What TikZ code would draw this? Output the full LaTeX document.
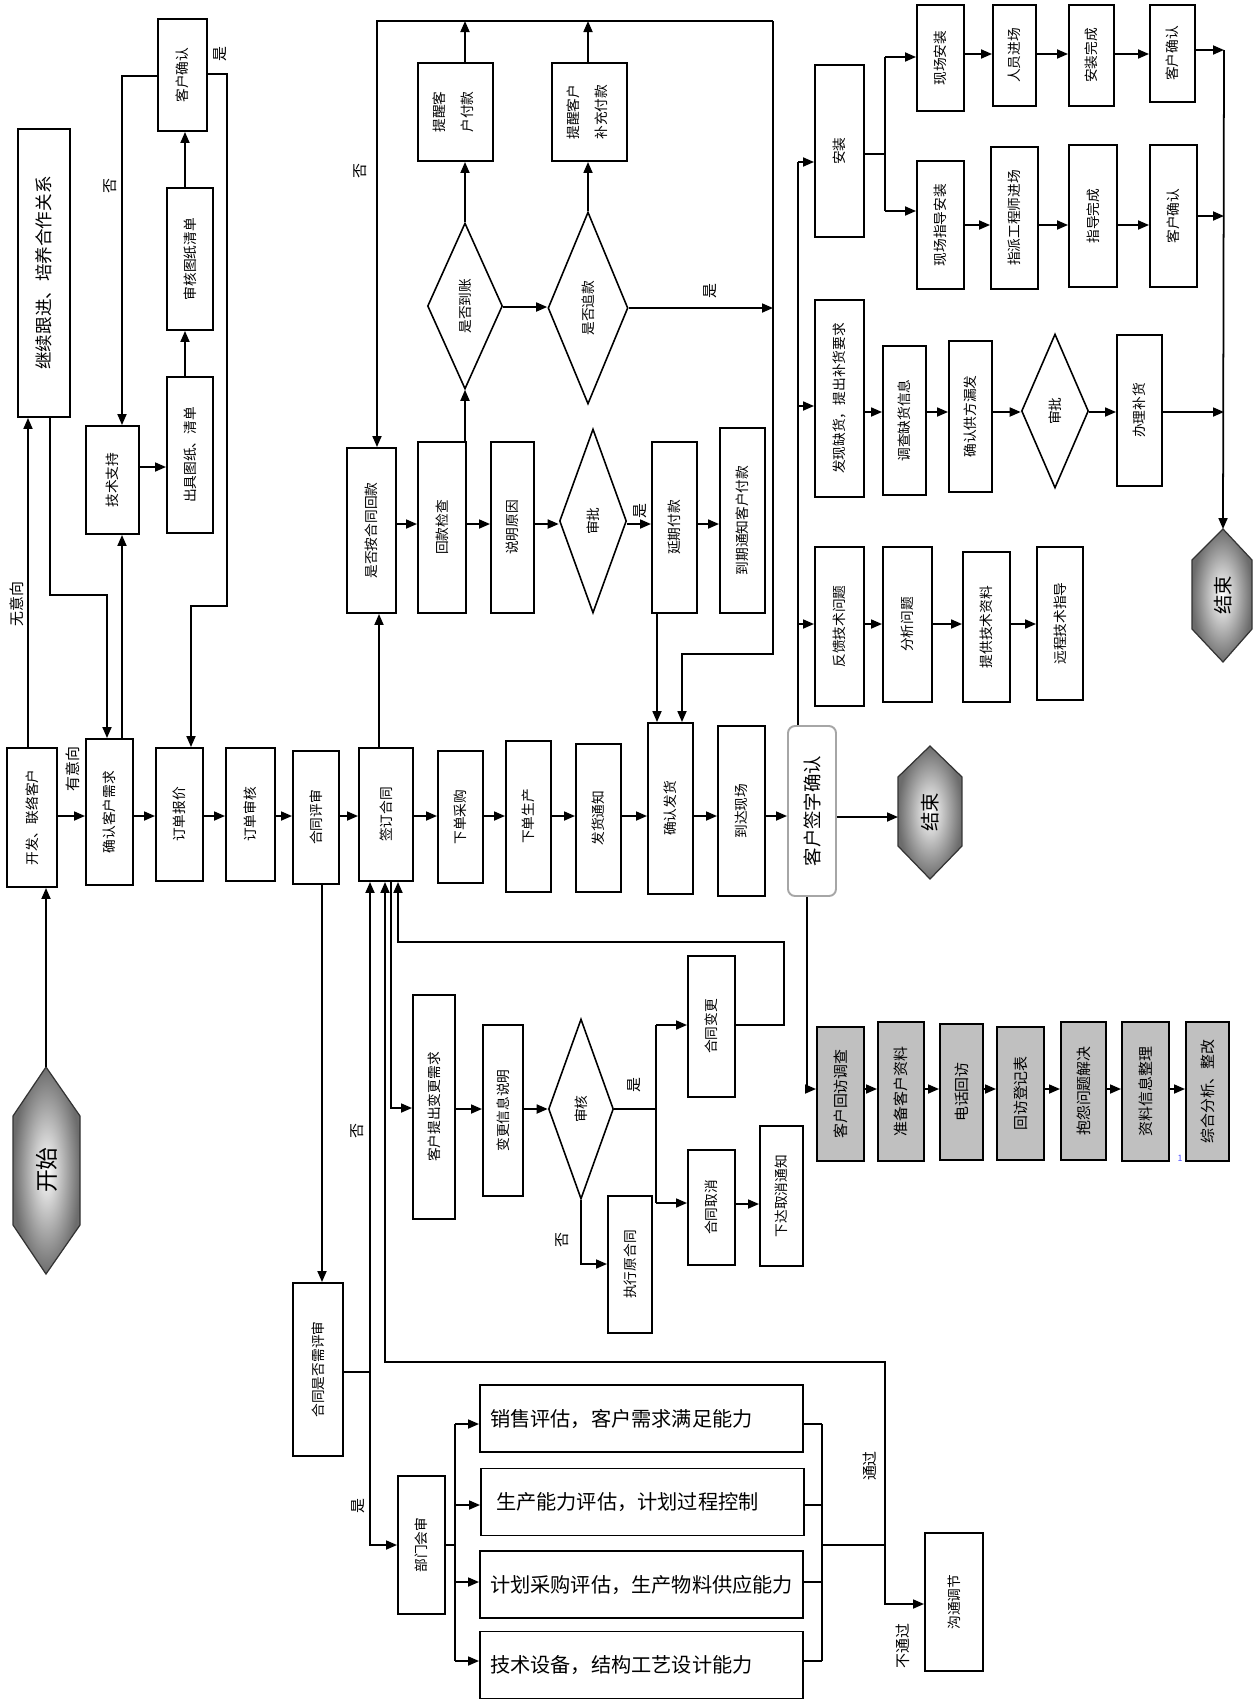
\documentclass[tikz,border=0pt]{standalone}
\usepackage{fontspec}
\setmainfont{Noto Sans CJK SC}
\usepackage{graphicx}
\usetikzlibrary{shapes.geometric,arrows.meta}
\definecolor{visitgray}{HTML}{C0C0C0}
\newcommand{\rottext}[1]{\rotatebox{90}{#1}}
% box from corner (x1,y1) to (x2,y2), text read upwards
\newcommand{\stage}[7][]{%
  \node[box,#1,minimum width={(#5-#3)*0.02cm},minimum height={(#6-#4)*0.02cm}]
    (#2) at ({(#3+#5)/2},{(#4+#6)/2}) {\rottext{#7}};}

\begin{document}
\begin{tikzpicture}[x=0.02cm,y=-0.02cm,
    box/.style={draw,line width=1.1pt,inner sep=0pt,font=\fontsize{7.8}{9.5}\selectfont},
    dia/.style={draw,diamond,line width=0.9pt,inner sep=0pt,font=\fontsize{7.8}{9.5}\selectfont},
    evalbox/.style={box,font=\fontsize{11.5}{13}\selectfont,minimum width=323*0.02cm,
        minimum height=67*0.02cm,text width=313*0.02cm,inner xsep=5*0.02cm,align=left},
    lbl/.style={inner sep=0pt,font=\fontsize{8.5}{10}\selectfont},
    link/.style={line width=1pt},
    arr/.style={link,-{Triangle[length=2.2mm,width=1.8mm]}},
    term/.style={inner color=white,outer color=gray!85!black,draw=gray!40!black,line width=0.7pt}]
    \useasboundingbox (0,0) rectangle (1254,1701);

    % terminals
    \shadedraw[term] (46,1067) -- (80,1116) -- (80,1225) -- (46,1274) -- (13,1225) -- (13,1116) -- cycle;
    \node[font=\fontsize{13}{15}\selectfont] (start) at (47,1170) {\rottext{开始}};
    \coordinate (start-top) at (46,1067);
    \shadedraw[term] (930,746) -- (962,777) -- (962,846) -- (930,879) -- (898,846) -- (898,777) -- cycle;
    \node[font=\fontsize{11}{13}\selectfont] (endM) at (930,812) {\rottext{结束}};
    \coordinate (endM-w) at (898,817);
    \shadedraw[term] (1223,529) -- (1252,560) -- (1252,629) -- (1223,662) -- (1192,629) -- (1192,560) -- cycle;
    \node[font=\fontsize{11}{13}\selectfont] (endR) at (1223,595) {\rottext{结束}};
    \coordinate (endR-n) at (1223,529);

    % customer development
    \stage{dev}{7}{748}{57}{887}{开发、联络客户}
    \stage[font=\fontsize{10}{12}\selectfont]{follow}{18}{129}{70}{417}{继续跟进、培养合作关系}
    \stage{need}{86}{739}{133}{885}{确认客户需求}
    \stage{tech}{86}{426}{139}{534}{技术支持}
    \stage{chart}{167}{377}{213}{533}{出具图纸、清单}
    \stage{review}{167}{188}{213}{330}{审核图纸清单}
    \stage{cconf}{158}{19}{207}{131}{客户确认}
    \stage{quote}{156}{748}{203}{881}{订单报价}
    \stage{audit}{226}{748}{275}{881}{订单审核}
    \stage{ceval}{293}{751}{339}{884}{合同评审}
    \stage{sign}{359}{748}{413}{881}{签订合同}

    % payment check
    \stage{payc}{347}{448}{396}{613}{是否按合同回款}
    \stage{check}{418}{442}{466}{613}{回款检查}
    \stage{reason}{491}{442}{534}{613}{说明原因}
    \node[dia,minimum width=67*0.02cm,minimum height=184*0.02cm] (approve) at (593,521) {\rottext{审批}};
    \stage{delay}{652}{442}{697}{613}{延期付款}
    \stage{notify}{720}{428}{765}{613}{到期通知客户付款}
    \node[dia,minimum width=75*0.02cm,minimum height=166*0.02cm] (daz) at (465,306) {\rottext{是否到账}};
    \node[dia,minimum width=80*0.02cm,minimum height=192*0.02cm] (zk) at (588,308) {\rottext{是否追款}};
    \stage{remind1}{418}{63}{493}{161}{\begin{tabular}{@{}c@{}}提醒客\\[6.5pt]户付款\end{tabular}}
    \stage{remind2}{552}{63}{627}{161}{\begin{tabular}{@{}c@{}}提醒客户\\[6.5pt]补充付款\end{tabular}}

    % order execution
    \stage{purchase}{438}{751}{483}{883}{下单采购}
    \stage{produce}{506}{741}{551}{892}{下单生产}
    \stage{notice}{576}{744}{621}{892}{发货通知}
    \stage{ship}{648}{723}{693}{894}{确认发货}
    \stage{arrive}{718}{726}{765}{896}{到达现场}
    \stage[rounded corners=4pt,draw=gray!70,font=\fontsize{10.5}{12}\selectfont]{csign}{788}{726}{836}{896}{客户签字确认}

    % after sales
    \stage{install}{815}{65}{864}{237}{安装}
    \stage{onsite}{917}{5}{964}{111}{现场安装}
    \stage{staff}{993}{5}{1036}{106}{人员进场}
    \stage{idone}{1069}{5}{1114}{106}{安装完成}
    \stage{cc1}{1150}{5}{1195}{102}{客户确认}
    \stage{guide}{917}{161}{964}{289}{现场指导安装}
    \stage{assign}{991}{147}{1038}{289}{指派工程师进场}
    \stage{gdone}{1069}{145}{1117}{287}{指导完成}
    \stage{cc2}{1150}{145}{1197}{287}{客户确认}
    \stage{short}{815}{300}{864}{497}{发现缺货，提出补货要求}
    \stage{survey}{883}{346}{926}{495}{调查缺货信息}
    \stage{supcf}{949}{341}{992}{492}{确认供方漏发}
    \node[dia,minimum width=67*0.02cm,minimum height=154*0.02cm] (appr2) at (1055,411) {\rottext{审批}};
    \stage{replen}{1117}{335}{1162}{486}{办理补货}
    \stage{tfb}{815}{547}{864}{706}{反馈技术问题}
    \stage{analyze}{883}{547}{932}{702}{分析问题}
    \stage{provide}{963}{552}{1010}{702}{提供技术资料}
    \stage{remote}{1037}{547}{1083}{700}{远程技术指导}

    % return visit
    \stage[fill=visitgray,font=\fontsize{8.5}{10}\selectfont]{visit1}{817}{1027}{864}{1161}{客户回访调查}
    \stage[fill=visitgray,font=\fontsize{8.5}{10}\selectfont]{visit2}{878}{1022}{924}{1161}{准备客户资料}
    \stage[fill=visitgray,font=\fontsize{8.5}{10}\selectfont]{visit3}{940}{1024}{983}{1160}{电话回访}
    \stage[fill=visitgray,font=\fontsize{8.5}{10}\selectfont]{visit4}{997}{1027}{1044}{1160}{回访登记表}
    \stage[fill=visitgray,font=\fontsize{8.5}{10}\selectfont]{visit5}{1061}{1022}{1106}{1160}{抱怨问题解决}
    \stage[fill=visitgray,font=\fontsize{8.5}{10}\selectfont]{visit6}{1122}{1022}{1169}{1161}{资料信息整理}
    \stage[fill=visitgray,font=\fontsize{8.5}{10}\selectfont]{visit7}{1186}{1022}{1229}{1161}{综合分析、整改}
    \node[font=\fontsize{5}{6}\selectfont,text=blue!70,inner sep=0pt] (mark1) at (1180,1158) {1};

    % contract change
    \stage{chreq}{413}{995}{455}{1219}{客户提出变更需求}
    \stage{chinfo}{483}{1025}{523}{1196}{变更信息说明}
    \node[dia,minimum width=65*0.02cm,minimum height=180*0.02cm] (chaud) at (581,1109) {\rottext{审核}};
    \stage{chg}{688}{956}{735}{1097}{合同变更}
    \stage{cancel}{688}{1150}{735}{1265}{合同取消}
    \stage{cnotice}{760}{1126}{803}{1266}{下达取消通知}
    \stage{exec}{608}{1196}{652}{1333}{执行原合同}

    % contract review
    \stage{needrev}{293}{1283}{343}{1456}{合同是否需评审}
    \stage{dept}{398}{1476}{445}{1614}{部门会审}
    \node[evalbox] (e1) at (641.5,1418.5) {\hspace*{0.1cm}销售评估，客户需求满足能力};
    \node[evalbox] (e2) at (642.5,1502) {\hspace*{0.2cm}生产能力评估，计划过程控制};
    \node[evalbox] (e3) at (641.5,1584.5) {\hspace*{0.1cm}计划采购评估，生产物料供应能力};
    \node[evalbox] (e4) at (641.5,1665) {\hspace*{0.1cm}技术设备，结构工艺设计能力};
    \stage{comm}{925}{1533}{983}{1671}{沟通调节}

    % main row
    \coordinate (rowA) at (0,816);
    \foreach \a/\b in {dev/need,need/quote,quote/audit,audit/ceval,ceval/sign,sign/purchase,
        purchase/produce,produce/notice,notice/ship,ship/arrive,arrive/csign}
        \draw[arr] (\a.east |- rowA) -- (\b.west |- rowA);
    \draw[arr] (csign.east |- endM-w) -- (endM-w);
    \draw[arr] (start-top) -- (start-top |- dev.south);

    % left loops
    \draw[arr] (dev.north -| 28,0) -- (follow.south -| 28,0);
    \draw[arr] (follow.south -| 50,0) -- (50,595) -- (107,595) -- (need.north -| 107,0);
    \draw[arr] (need.north -| 122,0) -- (tech.south -| 122,0);
    \draw[arr] (tech.east |- 0,467) -- (chart.west |- 0,467);
    \draw[arr] (chart.north -| 185,0) -- (review.south -| 185,0);
    \draw[arr] (review.north -| 185,0) -- (cconf.south -| 185,0);
    \draw[arr] (cconf.west |- 0,76) -- (122,76) -- (tech.north -| 122,0);
    \draw[arr] (cconf.east |- 0,74) -- (227,74) -- (227,606) -- (191,606) -- (quote.north -| 191,0);

    % payment
    \coordinate (rowB) at (0,524);
    \foreach \a/\b in {payc/check,check/reason,reason/approve,approve/delay,delay/notify}
        \draw[arr] (\a.east |- rowB) -- (\b.west |- rowB);
    \draw[arr] (sign.north -| 379,0) -- (payc.south -| 379,0);
    \draw[arr] (check.north -| daz.south) -- (daz.south);
    \draw[arr] (daz.east |- 0,307) -- (zk.west |- 0,307);
    \draw[arr] (daz.north) -- (remind1.south -| daz.north);
    \draw[arr] (zk.north) -- (remind2.south -| zk.north);
    \coordinate (topL) at (377,21);
    \coordinate (topR) at (773,21);
    \draw[arr] (remind1.north -| daz.north) -- (topL -| daz.north);
    \draw[arr] (remind2.north -| zk.north) -- (topL -| zk.north);
    \draw[arr] (topR) -- (topL) -- (payc.north -| topL);
    \draw[arr] (zk.east) -- (zk.east -| topR);
    \draw[arr] (topR) -- (773,654) -- (682,654) -- (ship.north -| 682,0);
    \draw[arr] (delay.south -| 657,0) -- (ship.north -| 657,0);

    % after sales
    \coordinate (busL) at (798,162);
    \draw[link] (busL |- csign.north) -- (busL);
    \foreach \n/\y in {install/162,short/406,tfb/624}
        \draw[arr] (798,\y) -- (\n.west |- 0,\y);
    \draw[link] (install.east |- 0,154) -- (885,154);
    \draw[link] (885,57) -- (885,211);
    \draw[arr] (885,57) -- (onsite.west |- 0,57);
    \draw[arr] (885,211) -- (guide.west |- 0,211);
    \foreach \a/\b in {onsite/staff,staff/idone,idone/cc1}
        \draw[arr] (\a.east |- 0,54) -- (\b.west |- 0,54);
    \foreach \a/\b in {guide/assign,assign/gdone,gdone/cc2}
        \draw[arr] (\a.east |- 0,225) -- (\b.west |- 0,225);
    \foreach \a/\b in {short/survey,survey/supcf,supcf/appr2,appr2/replen}
        \draw[arr] (\a.east |- 0,412) -- (\b.west |- 0,412);
    \foreach \a/\b in {tfb/analyze,analyze/provide,provide/remote}
        \draw[arr] (\a.east |- 0,624) -- (\b.west |- 0,624);
    \coordinate (busR) at (1224,50);
    \draw[arr] (busR) -- (endR-n);
    \foreach \n/\y in {cc1/50,cc2/216,replen/412}
        \draw[arr] (\n.east |- 0,\y) -- (busR |- 0,\y);

    % return visit
    \draw[arr] (csign.south -| 807,0) -- (807,1089) -- (visit1.west |- 0,1089);
    \foreach \a/\b in {visit1/visit2,visit2/visit3,visit3/visit4,visit4/visit5,visit5/visit6,visit6/visit7}
        \draw[arr] (\a.east |- 0,1089) -- (\b.west |- 0,1089);

    % contract change
    \draw[arr] (sign.south -| 391,0) -- (391,1108) -- (chreq.west |- 0,1108);
    \draw[arr] (chreq.east |- 0,1109) -- (chinfo.west |- 0,1109);
    \draw[arr] (chinfo.east |- 0,1109) -- (chaud.west);
    \draw[link] (chaud.east) -- (656,1109);
    \draw[link] (656,1025) -- (656,1203);
    \draw[arr] (656,1025) -- (chg.west |- 0,1025);
    \draw[arr] (656,1203) -- (cancel.west |- 0,1203);
    \draw[arr] (cancel.east |- 0,1204) -- (cnotice.west |- 0,1204);
    \draw[arr] (chaud.south) -- (581,1264) -- (exec.west |- 0,1264);
    \draw[arr] (chg.east |- 0,1025) -- (784,1025) -- (784,942) -- (398,942) -- (sign.south -| 398,0);

    % contract review
    \draw[arr] (ceval.south -| 322,0) -- (needrev.north -| 322,0);
    \draw[link] (needrev.east |- 0,1372) -- (370,1372);
    \draw[arr] (370,1372) -- (sign.south -| 370,0);
    \draw[arr] (370,1372) -- (370,1545) -- (dept.west |- 0,1545);
    \draw[link] (dept.east |- 0,1545) -- (455,1545);
    \draw[link] (455,1424) -- (455,1661);
    \draw[link] (822,1424) -- (822,1661);
    \foreach \n/\y in {e1/1424,e2/1505,e3/1582,e4/1661}{
        \draw[arr] (455,\y) -- (\n.west |- 0,\y);
        \draw[link] (\n.east |- 0,\y) -- (822,\y);
    }
    \draw[link] (822,1545) -- (885,1545);
    \draw[arr] (885,1545) -- (885,1362) -- (385,1362) -- (sign.south -| 385,0);
    \draw[arr] (885,1545) -- (885,1604) -- (comm.west |- 0,1604);

    % branch labels
    \node[lbl] (l-nointent) at (17,604) {\rottext{无意向}};
    \node[lbl] (l-intent) at (73,769) {\rottext{有意向}};
    \node[lbl] (l-no1) at (110,186) {\rottext{否}};
    \node[lbl] (l-yes1) at (220,54) {\rottext{是}};
    \node[lbl] (l-no2) at (360,171) {\rottext{否}};
    \node[lbl] (l-yes2) at (710,291) {\rottext{是}};
    \node[lbl] (l-yes3) at (640,511) {\rottext{是}};
    \node[lbl] (l-yes4) at (634,1085) {\rottext{是}};
    \node[lbl] (l-no3) at (562,1240) {\rottext{否}};
    \node[lbl] (l-no4) at (357,1131) {\rottext{否}};
    \node[lbl] (l-yes5) at (358,1506) {\rottext{是}};
    \node[lbl] (l-pass) at (870,1466) {\rottext{通过}};
    \node[lbl] (l-fail) at (903,1646) {\rottext{不通过}};
\end{tikzpicture}
\end{document}
